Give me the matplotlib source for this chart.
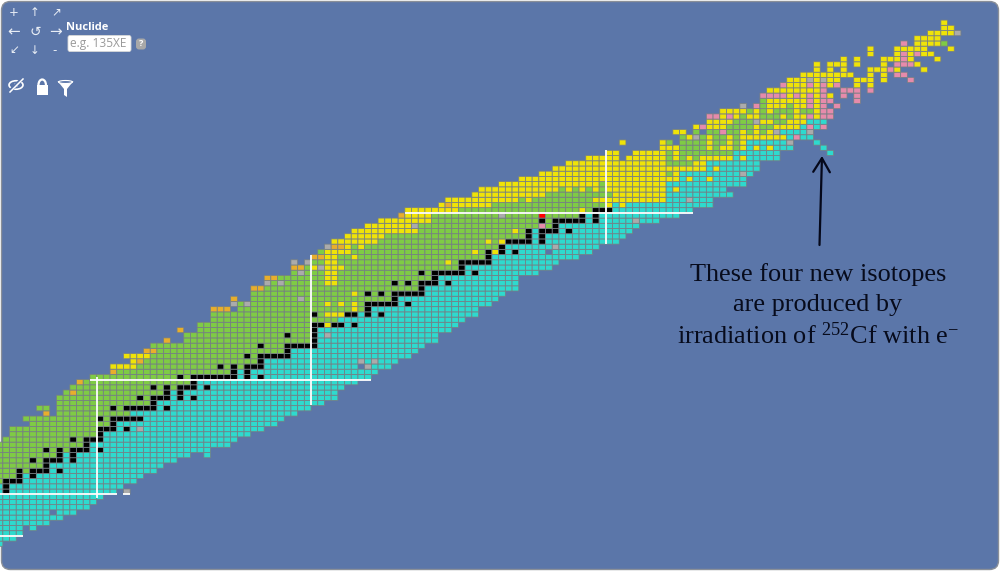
import re
import numpy as np
import matplotlib
matplotlib.use("Agg")
import matplotlib.pyplot as plt
from matplotlib.colors import ListedColormap
from matplotlib.patches import FancyBboxPatch, Ellipse, Polygon, Rectangle, Circle, Arc, FancyArrowPatch

plt.rcParams['mathtext.fontset'] = 'custom'
plt.rcParams['mathtext.rm'] = 'Liberation Serif'

BG = "#5b76a9"
GRID = "#767f84"

# decay classes: c beta-, g beta+/EC, y alpha, k stable, o proton, q spontaneous fission, s unknown, r gamma
codes = "cgykoqsr"
code_colors = ["#2edace", "#7fcb45", "#efe308", "#000000", "#e8ae2c", "#e68bab", "#ababab", "#ff0000"]

# proton number, first neutron number, cells of the row (letter + run length, _ is an empty cell)
z_values = list(range(18, 119))
first_n = [35, 35, 35, 35, 35, 35, 35, 35, 35, 35,  # 18-27
           35, 35, 35, 35, 35, 35, 35, 35, 35, 35,  # 28-37
           36, 37, 37, 40, 39, 42, 41, 44, 44, 45,  # 38-47
           46, 47, 49, 52, 52, 55, 54, 57, 58, 60,  # 48-57
           63, 62, 65, 67, 67, 67, 70, 70, 73, 73,  # 58-67
           75, 75, 79, 79, 79, 82, 83, 84, 85, 87,  # 68-77
           88, 90, 92, 95, 96, 101, 102, 106, 107, 110,  # 78-87
           113, 116, 118, 120, 123, 126, 134, 128, 137, 136,  # 88-97
           139, 141, 141, 143, 146, 149, 149, 150, 152, 153,  # 98-107
           155, 157, 157, 161, 165, 165, 170, 172, 174, 176,  # 108-117
           176]
row_cells = [
    "c", "c3", "c4", "c4 _ c", "c8", "c10", "c8 _ c3", "c14", "c15", "c16",
    "c k c16 _ s", "c k c17", "g k3 c17", "g3 k c k c16",
    "g3 k g k3 c k c14", "g7 k c17", "g5 k g k3 c k c15",
    "g9 k c k c17 _2 c", "g7 k g k g k3 c k c16", "g13 k c21",
    "g10 k g k3 c20", "g13 k c22", "g13 k3 c k c s c18", "g12 k c24",
    "g11 k g k5 c21", "o _ g11 c25", "g2 _ g8 k g k5 c k c21", "g14 k c25",
    "g12 k g k3 c k c k c21", "g o g13 k c k c23",
    "g12 k g k g k3 c k c20", "o g16 k c24",
    "g13 k g k7 c k c k c16", "o g17 k c k c19",
    "y4 g12 k g k g k3 c14 _ s c3", "y o g17 k c14 s c s c3",
    "y4 g14 k g k5 c18", "o2 g19 k c19", "g16 k g3 k5 c16",
    "o _2 g19 k c18", "g15 k g3 k c s c16", "o _2 g17 k c20",
    "g17 k2 y k2 c k c15", "g19 c19", "g15 k g y3 k2 c k c k c14",
    "o3 _ g17 y g k c16", "s g s g11 y g y g y g k5 c k c12",
    "o _2 g7 s g13 k c15", "g15 y g k g k g k5 c12", "o2 g23 k c14",
    "s g s g6 y2 g8 k g k g k3 c k c10", "o2 g7 y2 g14 k c12",
    "g s g3 y2 g12 k g k5 c k c9", "o2 g y s y3 g17 k c13",
    "s _ s g2 y2 g16 y g k5 c10", "o2 y2 g2 y g19 k c13",
    "g y4 g18 y g k y k c k c4 _ c6", "s o2 y g y g20 k c7 s c6",
    "y7 g16 y g y k4 c k c11", "y6 g21 k c k c12",
    "y10 g14 y g k c k3 c k c9", "y7 s g18 q g k c12",
    "y8 g16 k g k5 c k c5 s c3", "o y4 g10 s g5 r g5 k c k c12",
    "y8 g18 y g k3 c12", "y o y6 g17 y c y c13",
    "y11 g y g9 y11 c3 s c3", "y11 g10 y8 c10",
    "y12 g y g y g y g y9 c y c7", "y15 g y9 c12",
    "y24 c y c2 y c5", "y19 g y c9 s c", "y23 c y c6",
    "y15 g4 y2 c8", "y5 _ y6 g y g y g y5 c y c5",
    "y2 _2 y5 g y g8 c7 _7 c", "y3 g4 y g y2 g y c y c y c3 _4 c",
    "y _5 y g _ g4 y g2 y g y c6 s _3 c", "g y s g y g2 y g y7 c q c2",
    "y2 _ g _ g2 q g2 y g y g y s c4 s", "y q y3 g4 y g2 y4 c q c q",
    "y4 g3 s y2 g2 y3 c3", "q2 y q y g y2 g3 y g y2 q y q2",
    "y4 g y g y g3 y g2 y q2", "s _ q g y3 g y2 q y q _ q",
    "g y6 q y q2 _3 q", "q4 y q y q y q y _ q _ q", "y8 q _2 q3 _ q",
    "q y3 q y q y q _2 y _ y", "y3 s y s y2 _2 y3 _ y _3 q",
    "y8 _2 y _ y _ q2", "y _ y _ y _3 y3 q y _3 y",
    "y _ y3 _ y _3 y _ q3 y", "y _ y _3 y3 q y _3 y",
    "y _3 y q y q y2", "y _3 y5 _3 y", "q _ y4 g", "y4", "y4 s", "y2", "y",
]

# magic number guide lines: (level, start, end)
magic_z = [(19.5, 35.0, 38.5), (27.5, 35.0, 52.5), (49.5, 48.5, 90.5), (81.5, 95.5, 138.5)]
magic_n = [(49.5, 26.8, 50.0), (81.5, 44.6, 73.5), (125.5, 75.5, 93.6)]

note_lines = ["These four new isotopes", "are produced by",
              r"irradiation of $\mathregular{^{252}}$Cf with e$\mathregular{^{-}}$"]

# build the grid
n_edges = np.arange(34.5, 180.5)
z_edges = np.arange(17.5, 119.5)
grid = np.full((len(z_edges) - 1, len(n_edges) - 1), np.nan)
for z, n0, cells in zip(z_values, first_n, row_cells):
    n = n0
    for letter, count in re.findall(r"([a-z_])(\d*)", cells):
        count = int(count) if count else 1
        if letter != "_":
            grid[z - 18, n - 35:n - 35 + count] = codes.index(letter)
        n += count

fig = plt.figure(figsize=(10, 5.71), dpi=100, facecolor="white")

# pixel layer for frame, controls and the note
px = fig.add_axes([0, 0, 1, 1], zorder=0)
px.set_xlim(0, 1000)
px.set_ylim(571, 0)
px.axis("off")
frame = FancyBboxPatch((1.5, 1.5), 997, 568, boxstyle="round,pad=0,rounding_size=9",
                       fc=BG, ec="#8a8f98", lw=1.0)
px.add_patch(frame)

# chart layer
ax = fig.add_axes([0, 0, 1, 1], zorder=1)
ax.patch.set_alpha(0)
ax.set_xlim(50 - 100 / 6.7, 50 + 900 / 6.7)
ax.set_ylim(118 - 548.3 / 5.21, 118 + 22.7 / 5.21)
ax.axis("off")
mesh = ax.pcolor(n_edges, z_edges, np.ma.masked_invalid(grid), cmap=ListedColormap(code_colors),
                 vmin=-0.5, vmax=len(codes) - 0.5, edgecolors=GRID, linewidth=0.55)
for level, a, b in magic_z:
    ax.plot([a, b], [level, level], color="white", lw=1.3, solid_capstyle="butt")
for level, a, b in magic_n:
    ax.plot([level, level], [a, b], color="white", lw=1.3, solid_capstyle="butt")
ax.plot([53.5, 54.5], [27.5, 27.5], color="white", lw=1.3, solid_capstyle="butt")

# navigation buttons
buttons = [("+", 14, 12), ("↑", 35, 13), ("↗", 56, 12),
           ("←", 14, 32), ("↺", 35, 32), ("→", 55, 32),
           ("↙", 14, 50), ("↓", 35, 51), ("-", 55, 51)]
for label, x, y in buttons:
    size = 11 if label in "←→" else 10 if label == "↺" else 8.5
    px.text(x, y, label, color="#e8edf5", fontsize=size, ha="center", va="center", family="DejaVu Sans")

px.text(66, 27, "Nuclide", color="white", fontsize=8, fontweight="bold", family="Open Sans", va="center")
px.add_patch(FancyBboxPatch((68, 35.5), 63, 16, boxstyle="round,pad=0,rounding_size=2", fc="white", ec="#d8d8d8", lw=0.6))
px.text(70, 44, "e.g. 135XE", color="#9a9a9a", fontsize=8.6, family="Open Sans", va="center")
px.add_patch(FancyBboxPatch((136, 38.5), 10, 11, boxstyle="round,pad=0,rounding_size=3", fc="#a8a8a8", ec="none"))
px.text(141, 44, "?", color="white", fontsize=6.5, fontweight="bold", ha="center", va="center", family="Open Sans")

# eye, lock, funnel
px.add_patch(Ellipse((16, 85), 14, 8.5, fc="none", ec="white", lw=1.2))
px.add_patch(Circle((16, 85), 2.0, fc="white", ec="none"))
px.plot([9, 23], [92, 78], color=BG, lw=2.6)
px.plot([10, 23], [92, 79], color="white", lw=1.1)
px.add_patch(Rectangle((36.5, 85), 11.5, 9.5, fc="white", ec="none"))
px.add_patch(Arc((42.2, 85), 7.5, 11, theta1=180, theta2=360, ec="white", lw=1.6))
px.add_patch(Polygon([(57.5, 81), (73.5, 81), (67, 89), (67, 97), (64, 95), (64, 89)], fc="white", ec="none"))
px.add_patch(Ellipse((65.5, 82), 14, 3, fc=BG, ec="white", lw=0.8))

# arrow and note
px.add_patch(FancyArrowPatch((819.5, 245), (822, 156), arrowstyle="->,head_length=10,head_width=6",
                             mutation_scale=1, color="#05081a", lw=1.6, shrinkA=0, shrinkB=0))
for text, y in zip(note_lines, [275, 305, 336]):
    px.text(818, y, text, color="#070b1c", fontsize=18.9, family="Liberation Serif", ha="center", va="center")

fig.savefig("out.png", dpi=100)
